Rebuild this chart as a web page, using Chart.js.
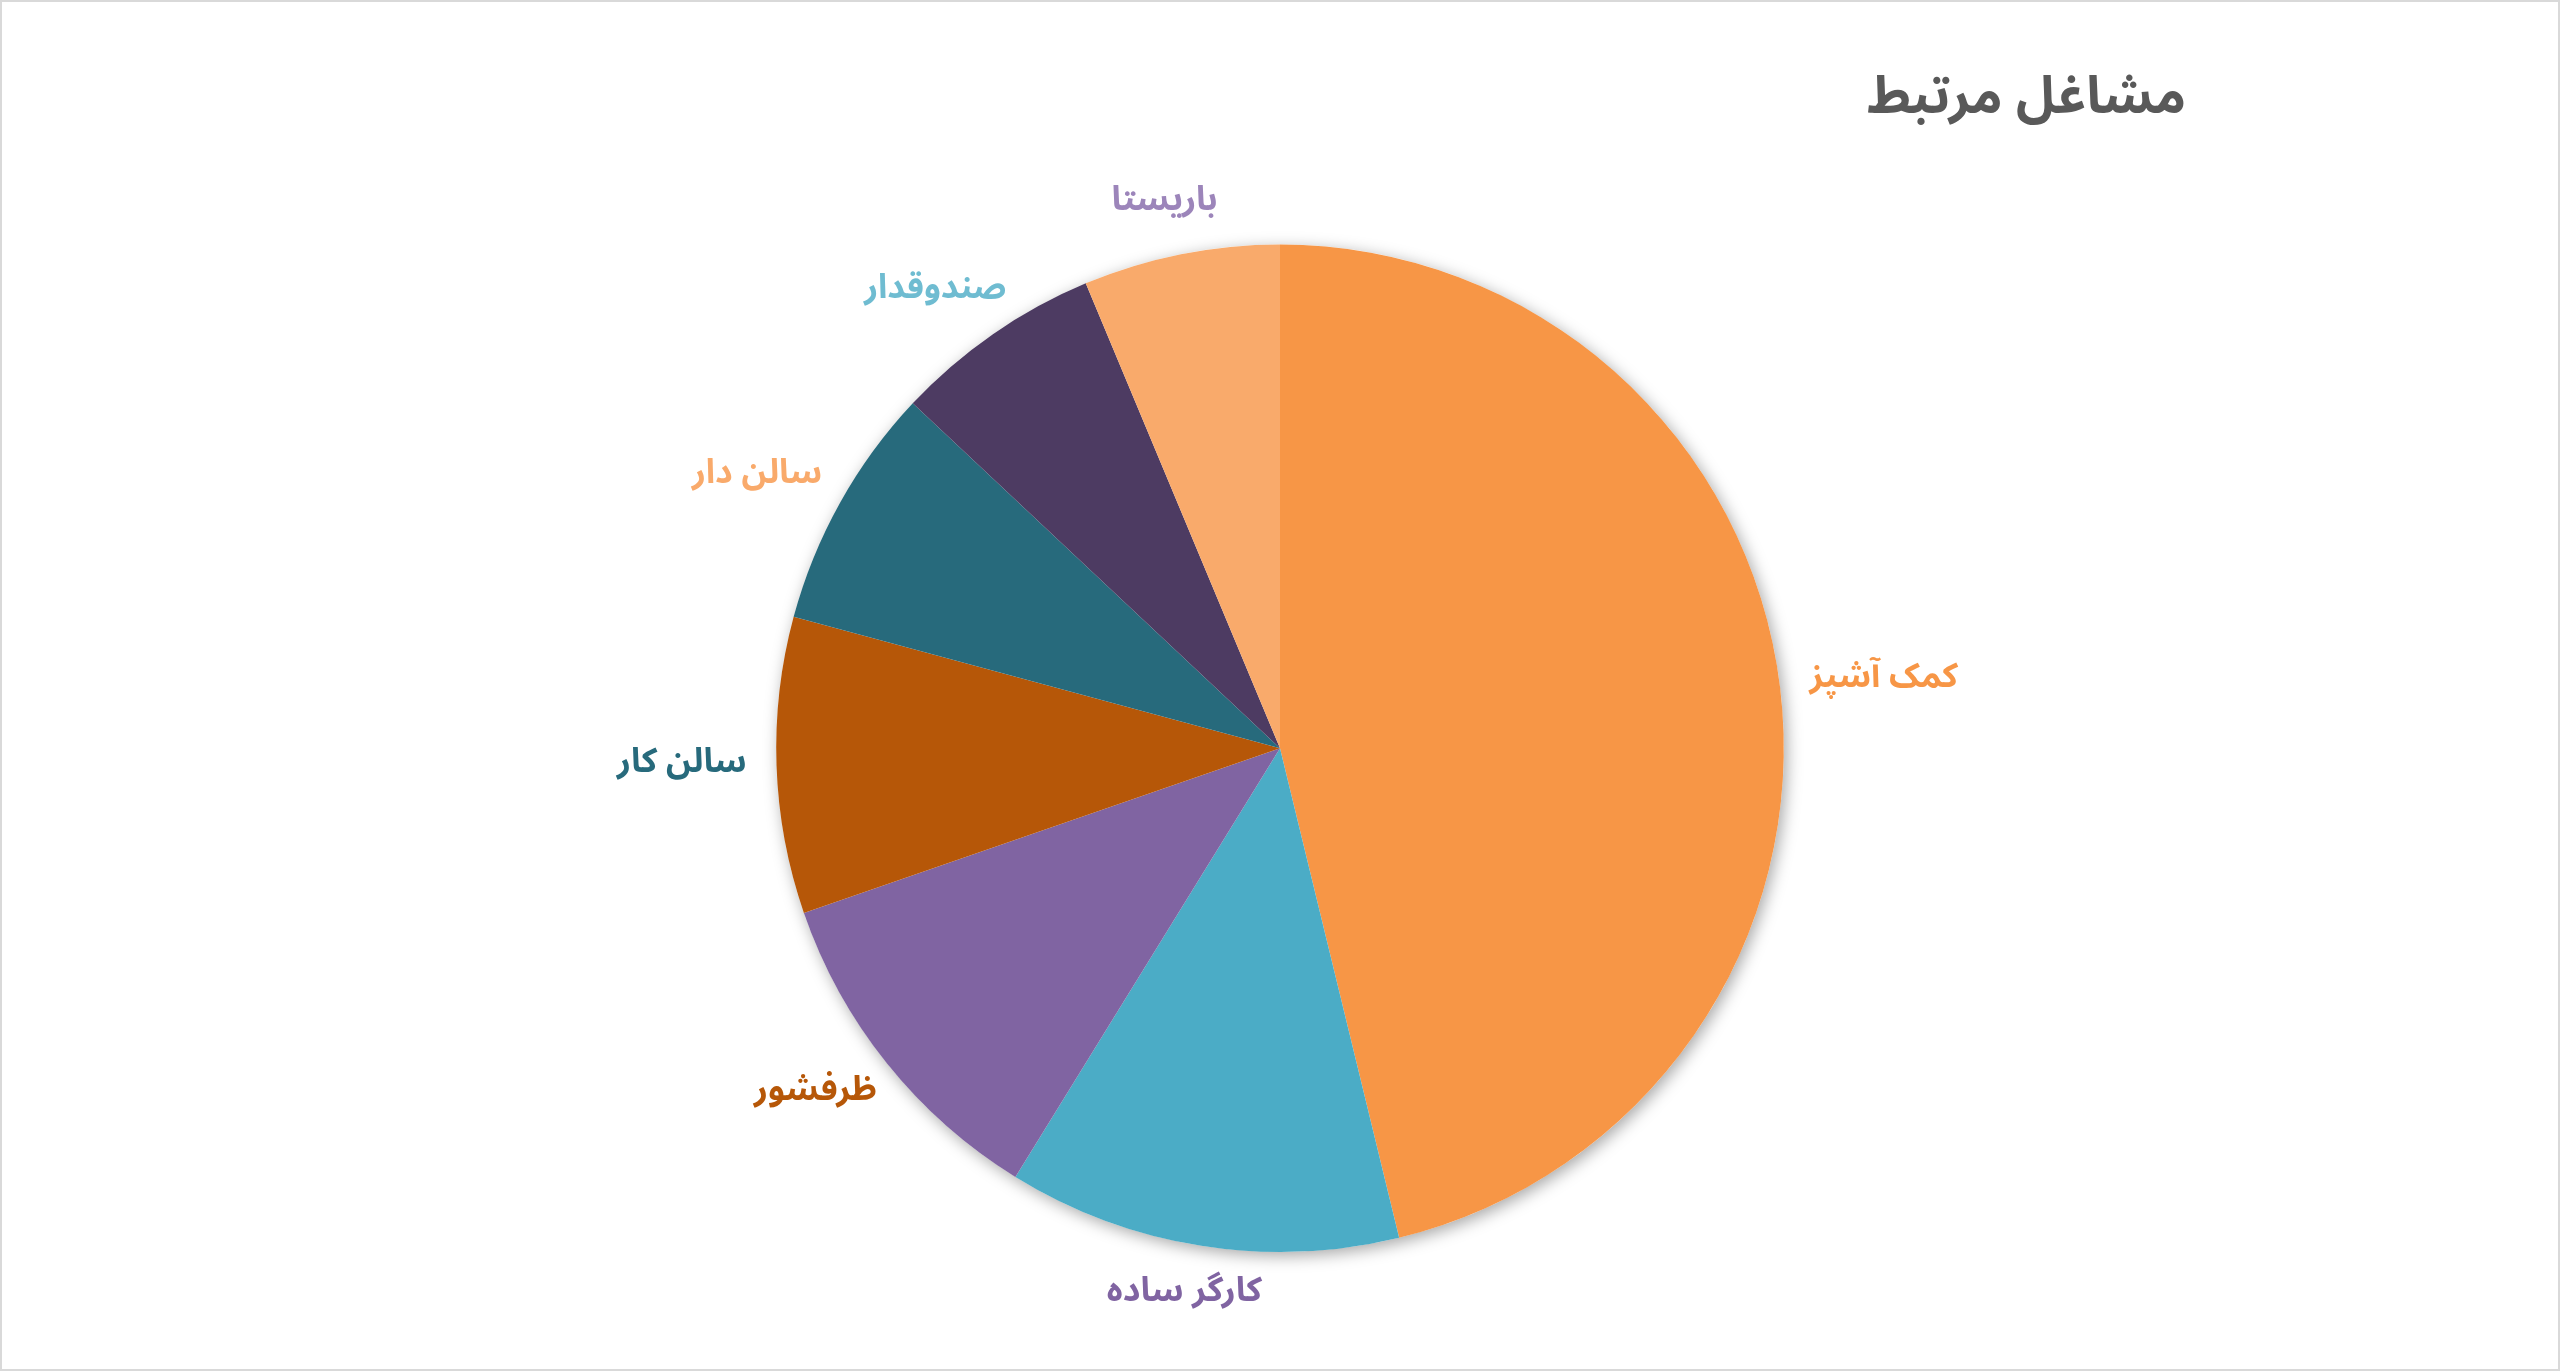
<!DOCTYPE html>
<html lang="fa">
<head>
<meta charset="utf-8">
<title>مشاغل مرتبط</title>
<script src="https://cdn.jsdelivr.net/npm/chart.js@4.4.1/dist/chart.umd.min.js"></script>
<style>
    html, body { margin: 0; padding: 0; background: #ffffff; }
    #wrap {
        width: 2560px;
        height: 1371px;
        box-sizing: border-box;
        border: 2px solid #d9d9d9;
        position: relative;
    }
    #chart { display: block; }
</style>
</head>
<body>
<div id="wrap"><canvas id="chart"></canvas></div>
<script>
// ─── Data ─────────────────────────────────────────────────────────────────────
const jobs = ['کمک آشپز', 'کارگر ساده', 'ظرفشور', 'سالن کار', 'سالن دار', 'صندوقدار', 'باریستا'];
const shares = [46.2, 12.6, 10.9, 9.5, 7.8, 6.7, 6.3];
const chartTitle = 'مشاغل مرتبط';

// ─── Styles ───────────────────────────────────────────────────────────────────
const FONT = "'Noto Sans Arabic', 'DejaVu Sans', sans-serif";
const sliceColors = ['#f79646', '#4bacc6', '#8064a2', '#b65708', '#276a7c', '#4d3b62', '#f9aa6b'];
const labelColors = ['#f79646', '#8064a2', '#b65708', '#276a7c', '#f9aa6b', '#6fbcd1', '#9c85ba'];

// soft shadow under the whole pie
const pieShadow = {
    id: 'pieShadow',
    beforeDatasetsDraw(chart) {
        const arc = chart.getDatasetMeta(0).data[0];
        if (!arc) return;
        const { x, y, outerRadius } = arc.getProps(['x', 'y', 'outerRadius'], true);
        const ctx = chart.ctx;
        ctx.save();
        ctx.shadowColor = 'rgba(0,0,0,0.35)';
        ctx.shadowBlur = 16;
        ctx.shadowOffsetX = 3;
        ctx.shadowOffsetY = 4;
        ctx.fillStyle = '#ffffff';
        ctx.beginPath();
        ctx.arc(x, y, outerRadius, 0, Math.PI * 2);
        ctx.fill();
        ctx.restore();
    }
};

// category names outside each slice
const outsideLabels = {
    id: 'outsideLabels',
    afterDatasetsDraw(chart) {
        const ctx = chart.ctx;
        const size = 34, gap = 30;
        ctx.save();
        ctx.font = `bold ${size}px ${FONT}`;
        ctx.textAlign = 'center';
        ctx.textBaseline = 'middle';
        chart.getDatasetMeta(0).data.forEach((arc, i) => {
            const p = arc.getProps(['x', 'y', 'startAngle', 'endAngle', 'outerRadius'], true);
            const mid = (p.startAngle + p.endAngle) / 2;
            const ux = Math.cos(mid), uy = Math.sin(mid);
            const w = ctx.measureText(jobs[i]).width;
            const cx = p.x + ux * (p.outerRadius + gap) + ux * w / 2;
            const cy = p.y + uy * (p.outerRadius + gap) + uy * size * 0.6;
            ctx.fillStyle = labelColors[i];
            ctx.fillText(jobs[i], cx, cy);
        });
        ctx.restore();
    }
};

new Chart(document.getElementById('chart'), {
    type: 'pie',
    data: {
        labels: jobs,
        datasets: [{
            data: shares,
            backgroundColor: sliceColors,
            borderWidth: 0,
            hoverOffset: 0,
        }]
    },
    options: {
        responsive: true,
        maintainAspectRatio: false,
        animation: false,
        layout: { padding: { left: 372, right: 372, top: 0, bottom: 117 } },
        plugins: {
            legend: { display: false },
            tooltip: { enabled: false },
            title: {
                display: true,
                text: chartTitle,
                align: 'end',
                color: '#595959',
                font: { family: FONT, size: 52, weight: 'bold' },
                padding: { top: 72, bottom: 108 },
            },
        },
    },
    plugins: [pieShadow, outsideLabels],
});
</script>
</body>
</html>
